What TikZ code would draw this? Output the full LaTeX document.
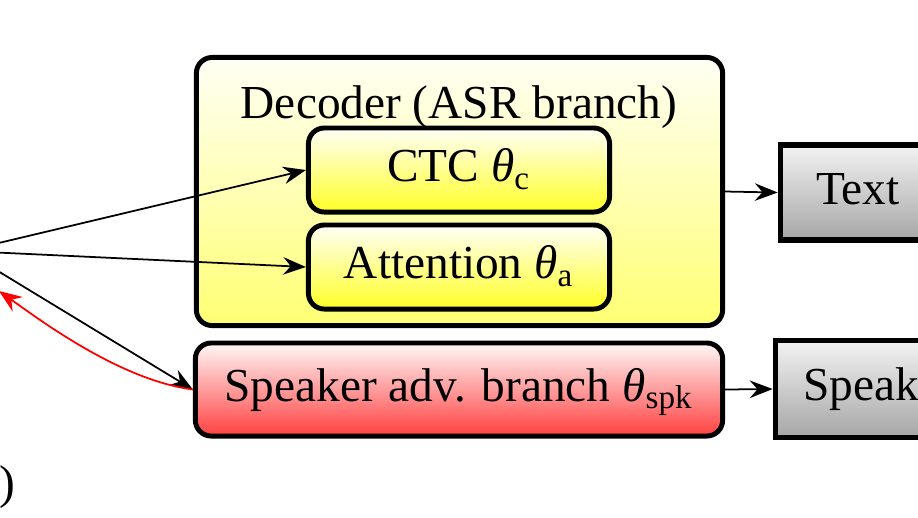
\documentclass[tikz,border=0pt]{standalone}
\usepackage{fontspec}
\setmainfont{Liberation Serif}
\usetikzlibrary{arrows.meta}
\newcommand{\thsub}[1]{{\itshape θ}$_{\mathrm{#1}}$}
\begin{document}
\begin{tikzpicture}[x=0.01cm,y=-0.01cm,
  font=\fontsize{13.46}{16}\selectfont,
  basebox/.style={draw=black, inner sep=0pt, text height=0.662em, text depth=0pt},
  roundbox/.style={basebox, line width=1.4pt, rounded corners=4.5pt},
  decbox/.style={roundbox, top color=yellow!4, bottom color=yellow!55},
  subbox/.style={roundbox, top color=yellow!3, bottom color=yellow!85,
    minimum width=3.01cm, minimum height=0.84cm},
  advbox/.style={roundbox, top color=red!3, bottom color=red!75},
  outbox/.style={basebox, line width=1.6pt, top color=gray!10, bottom color=gray!70},
  arr/.style={-{Stealth[length=6.5pt,width=5pt,inset=2.2pt]}, line width=0.5pt},
  gradarr/.style={arr, draw=red}
]
\path[use as bounding box] (0,0) rectangle (918,517);
\clip (0,0) rectangle (918,517);

% decoder container
\node[decbox, minimum width=5.26cm, minimum height=2.68cm] (dec) at (459.5,191.5) {};
\node[anchor=base, inner sep=0pt] (declab) at (459,118) {Decoder (ASR branch)};
\node[subbox] (ctc) at (459,170) {CTC \thsub{c}};
\node[subbox] (att) at (459,267) {Attention \thsub{a}};

% speaker adversarial branch
\node[advbox, minimum width=5.27cm, minimum height=0.93cm] (spk) at (459,389.5) {Speaker adv. branch \thsub{spk}};

% outputs
\node[outbox, minimum width=1.55cm, minimum height=0.955cm] (txt) at (858,192.5) {Text};
\node[outbox, minimum width=2.08cm, minimum height=0.97cm] (spkout) at (879.5,389) {Speaker};

% partially visible text at lower left
\node[anchor=base east, inner sep=0pt] (paren) at (16,498) {)};

% encoder output (off the left edge)
\coordinate (enc) at (-35,251);
\coordinate (gr) at (-1,291);

\draw[arr] (enc) -- (ctc.west);
\draw[arr] (enc) -- (att.west);
\draw[arr] (enc) -- (spk.west);
\draw[gradarr] (spk.west) .. controls (120,380) and (40,320) .. (gr);
\draw[arr] (dec.east) -- (txt.west);
\draw[arr] (spk.east) -- (spkout.west);
\end{tikzpicture}
\end{document}
